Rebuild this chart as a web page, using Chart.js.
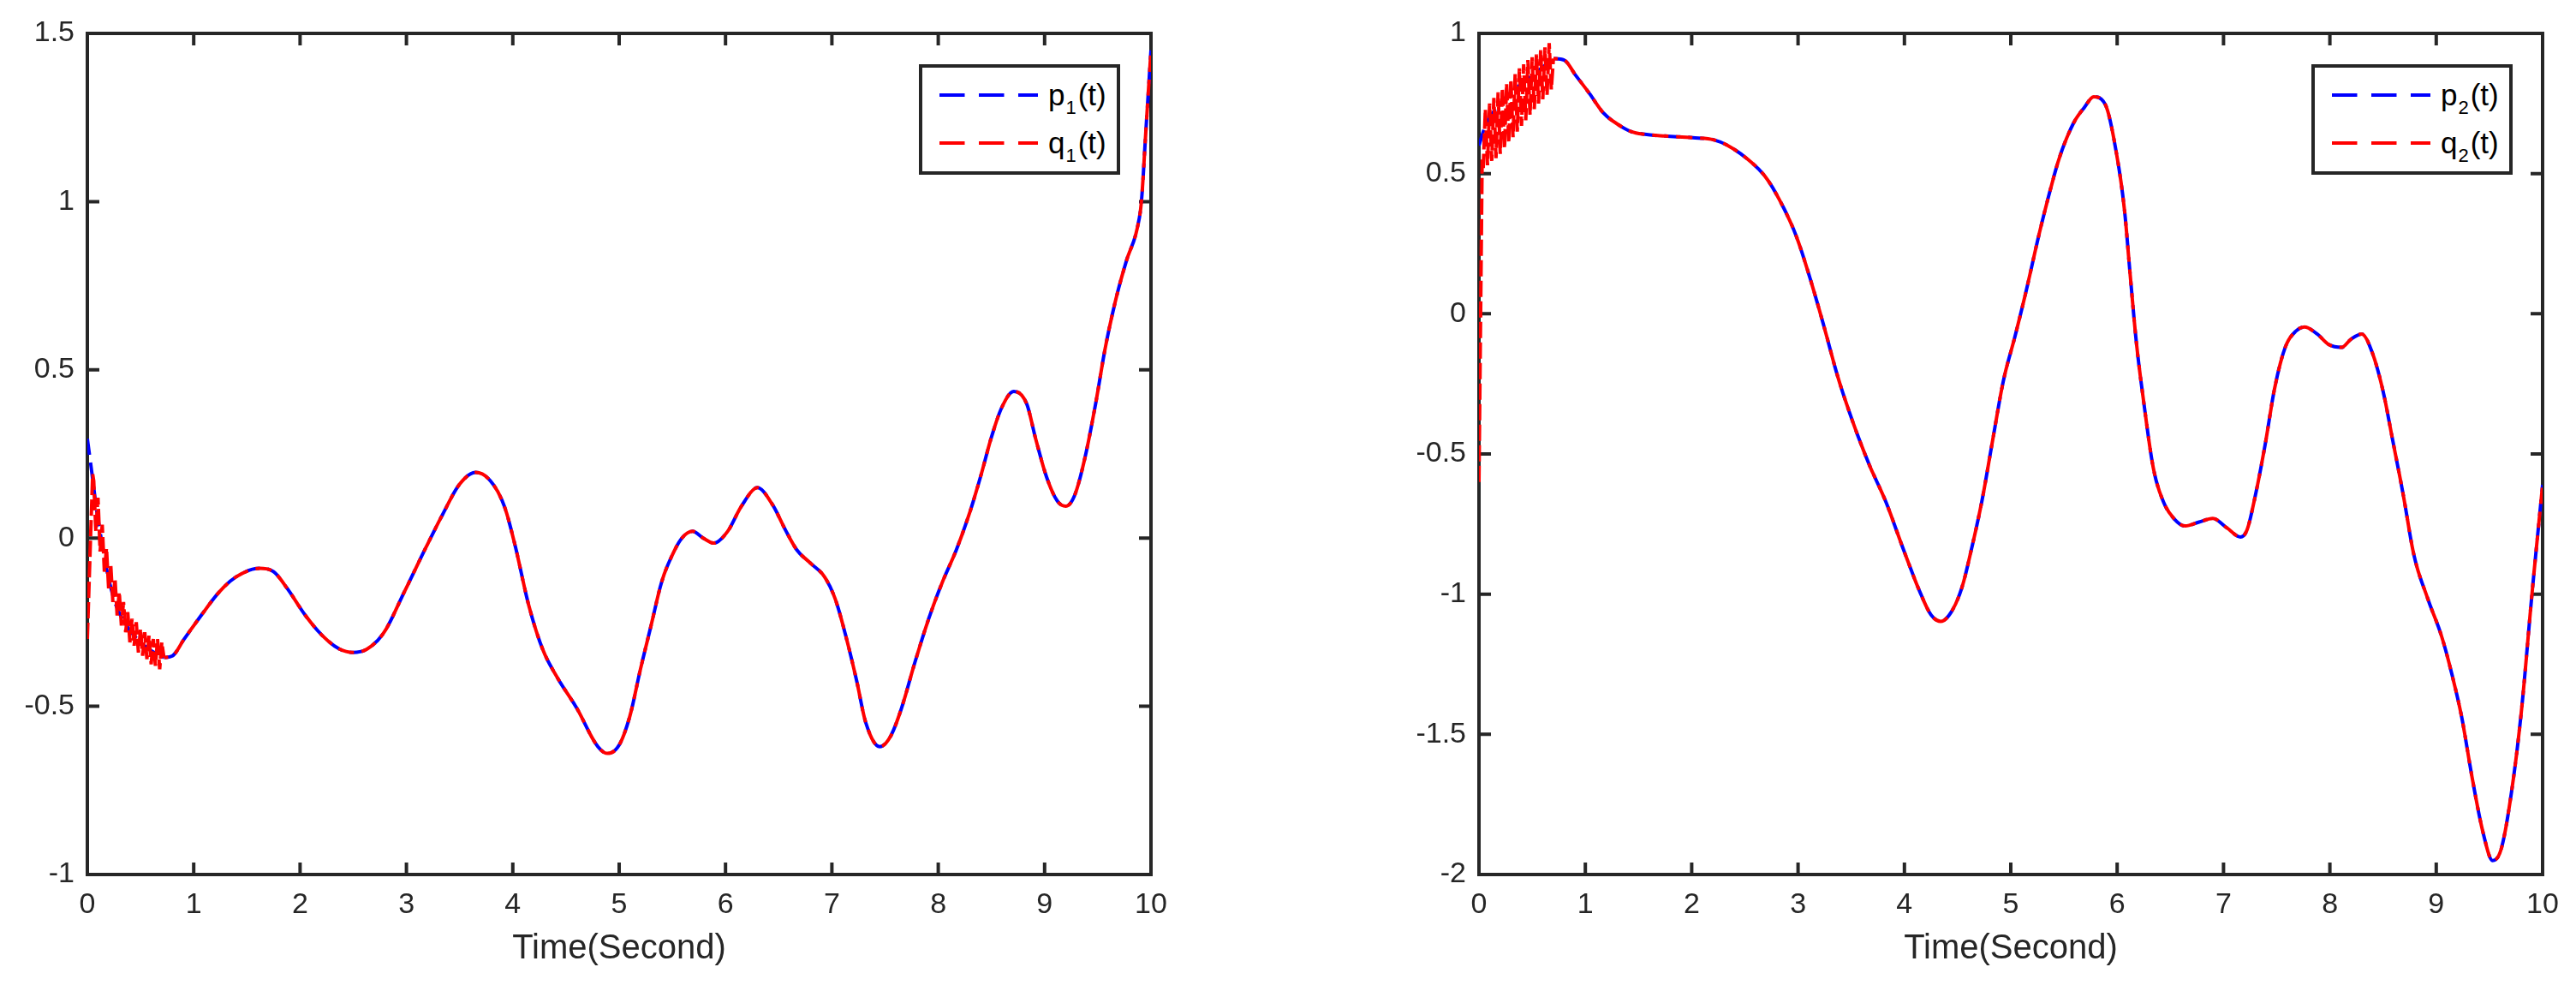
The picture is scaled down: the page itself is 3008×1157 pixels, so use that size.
<!DOCTYPE html>
<html>
<head>
<meta charset="utf-8">
<script src="https://cdn.jsdelivr.net/npm/chart.js@4.4.0/dist/chart.umd.min.js"></script>
<style>
  html, body { margin: 0; padding: 0; background: #fff; }
  #page { position: relative; width: 3008px; height: 1157px; overflow: hidden; }
  .plot { position: absolute; top: 0; width: 1504px; height: 1157px; }
  .legend {
    position: absolute; width: 235px; height: 129px; box-sizing: border-box;
    border: 4px solid #262626; background: #fff;
    font-family: 'Liberation Sans', Arial, sans-serif; color: #000;
  }
  .row { position: absolute; left: 20px; height: 56px; display: flex; align-items: center; }
  .row svg { display: block; }
  .lab { margin-left: 12px; font-size: 35px; line-height: 56px; white-space: nowrap; }
  .lab sub { font-size: 22px; line-height: 0; vertical-align: -10px; margin: 0 2px 0 1px; }
</style>
</head>
<body>
<div id="page">
  <div class="plot" style="left:0"><canvas id="chart1" width="1504" height="1157"></canvas></div>
  <div class="plot" style="left:1504px"><canvas id="chart2" width="1504" height="1157"></canvas></div>

  <div class="legend" style="left:1073px; top:75px">
    <div class="row" style="top:4px">
      <svg width="115" height="8"><line x1="0" y1="4" x2="115" y2="4" stroke="#0000ff" stroke-width="4" stroke-dasharray="29.5 16.5"/></svg>
      <span class="lab">p<sub>1</sub>(t)</span>
    </div>
    <div class="row" style="top:60px">
      <svg width="115" height="8"><line x1="0" y1="4" x2="115" y2="4" stroke="#ff0000" stroke-width="4" stroke-dasharray="29.5 16.5"/></svg>
      <span class="lab">q<sub>1</sub>(t)</span>
    </div>
  </div>

  <div class="legend" style="left:2699px; top:75px">
    <div class="row" style="top:4px">
      <svg width="115" height="8"><line x1="0" y1="4" x2="115" y2="4" stroke="#0000ff" stroke-width="4" stroke-dasharray="29.5 16.5"/></svg>
      <span class="lab">p<sub>2</sub>(t)</span>
    </div>
    <div class="row" style="top:60px">
      <svg width="115" height="8"><line x1="0" y1="4" x2="115" y2="4" stroke="#ff0000" stroke-width="4" stroke-dasharray="29.5 16.5"/></svg>
      <span class="lab">q<sub>2</sub>(t)</span>
    </div>
  </div>
</div>

<script>
// axes
const xTicks = [0, 1, 2, 3, 4, 5, 6, 7, 8, 9, 10];
const yTicks1 = [-1, -0.5, 0, 0.5, 1, 1.5];
const yTicks2 = [-2, -1.5, -1, -0.5, 0, 0.5, 1];
const xTitle = 'Time(Second)';

// p1(t)
const t1 = [0, 0.04, 0.08, 0.14, 0.2, 0.27, 0.39, 0.5, 0.6, 0.72, 0.8, 0.91, 1.07, 1.24, 1.4, 1.62, 1.75, 1.88,
  2.05, 2.21, 2.37, 2.5, 2.63, 2.79, 2.98, 3.18, 3.34, 3.5, 3.65, 3.79, 3.92, 4.02, 4.15, 4.28, 4.41, 4.6, 4.8,
  4.89, 5.0, 5.1, 5.2, 5.3, 5.4, 5.5, 5.59, 5.69, 5.79, 5.89, 6.02, 6.15, 6.3, 6.44, 6.57, 6.67, 6.8, 6.93, 7.03,
  7.13, 7.23, 7.32, 7.45, 7.55, 7.65, 7.78, 7.91, 8.04, 8.17, 8.3, 8.4, 8.5, 8.6, 8.71, 8.83, 8.92, 9.02, 9.12,
  9.2, 9.28, 9.38, 9.48, 9.57, 9.67, 9.77, 9.87, 9.91, 9.95, 10.0];
const p1 = [0.295, 0.2, 0.1, -0.02, -0.12, -0.2, -0.27, -0.31, -0.335, -0.355, -0.35, -0.3, -0.23, -0.16, -0.115,
  -0.09, -0.1, -0.15, -0.23, -0.29, -0.33, -0.34, -0.33, -0.28, -0.16, -0.03, 0.07, 0.16, 0.195, 0.17, 0.095,
  -0.02, -0.2, -0.33, -0.41, -0.505, -0.62, -0.64, -0.615, -0.53, -0.39, -0.26, -0.13, -0.05, 0.0, 0.02, 0.0,
  -0.015, 0.02, 0.095, 0.15, 0.1, 0.02, -0.035, -0.075, -0.115, -0.18, -0.29, -0.42, -0.55, -0.62, -0.59, -0.51,
  -0.37, -0.24, -0.13, -0.035, 0.08, 0.185, 0.3, 0.39, 0.436, 0.4, 0.29, 0.18, 0.11, 0.095, 0.125, 0.24, 0.4,
  0.565, 0.71, 0.825, 0.92, 1.0, 1.2, 1.45];

// q1(t): chattering start; after the last head point it sits on p1
const q1HeadT = [0, 0.03, 0.05, 0.06, 0.08, 0.1, 0.12, 0.14, 0.16, 0.18, 0.2, 0.22, 0.24, 0.26, 0.28, 0.3, 0.32,
  0.34, 0.36, 0.38, 0.4, 0.42, 0.44, 0.46, 0.48, 0.5, 0.52, 0.54, 0.56, 0.58, 0.6, 0.62, 0.64, 0.66, 0.68, 0.7, 0.72];
const q1HeadV = [-0.3, 0.0, 0.19, 0.17, 0.02, 0.12, -0.04, 0.04, -0.1, -0.03, -0.15, -0.08, -0.19, -0.12, -0.23,
  -0.16, -0.26, -0.19, -0.28, -0.22, -0.31, -0.24, -0.32, -0.25, -0.34, -0.27, -0.35, -0.28, -0.36, -0.29, -0.375,
  -0.3, -0.38, -0.3, -0.39, -0.31, -0.355];

// p2(t)
const t2 = [0, 0.05, 0.1, 0.2, 0.3, 0.4, 0.5, 0.6, 0.7, 0.8, 0.91, 1.04, 1.17, 1.3, 1.43, 1.56, 1.75, 2.01, 2.21,
  2.34, 2.53, 2.69, 2.82, 2.98, 3.11, 3.24, 3.37, 3.5, 3.66, 3.83, 3.99, 4.15, 4.25, 4.34, 4.44, 4.54, 4.63, 4.73,
  4.83, 4.93, 5.04, 5.14, 5.27, 5.37, 5.46, 5.59, 5.69, 5.78, 5.89, 5.99, 6.07, 6.12, 6.18, 6.25, 6.34, 6.44,
  6.54, 6.64, 6.77, 6.9, 7.03, 7.16, 7.22, 7.29, 7.39, 7.48, 7.58, 7.68, 7.76, 7.88, 7.99, 8.11, 8.2, 8.3, 8.4,
  8.5, 8.59, 8.69, 8.79, 8.92, 9.05, 9.15, 9.24, 9.34, 9.44, 9.53, 9.61, 9.71, 9.8, 9.9, 10.0];
const p2 = [0.6, 0.66, 0.7, 0.75, 0.79, 0.82, 0.85, 0.88, 0.91, 0.905, 0.85, 0.785, 0.716, 0.677, 0.65, 0.64,
  0.634, 0.628, 0.62, 0.6, 0.55, 0.49, 0.41, 0.28, 0.13, -0.04, -0.22, -0.37, -0.53, -0.675, -0.84, -0.996,
  -1.074, -1.097, -1.064, -0.977, -0.84, -0.665, -0.45, -0.24, -0.08, 0.074, 0.29, 0.44, 0.56, 0.68, 0.735,
  0.774, 0.745, 0.58, 0.366, 0.15, -0.1, -0.315, -0.55, -0.675, -0.733, -0.757, -0.743, -0.73, -0.763, -0.796,
  -0.772, -0.665, -0.47, -0.267, -0.12, -0.062, -0.047, -0.072, -0.11, -0.12, -0.09, -0.072, -0.14, -0.276,
  -0.45, -0.646, -0.86, -1.016, -1.15, -1.29, -1.44, -1.66, -1.85, -1.95, -1.91, -1.7, -1.42, -1.0, -0.61];

// q2(t): jump from -0.6, chattering; after the last head point it sits on p2
const q2HeadT = [0, 0.03, 0.04, 0.06, 0.08, 0.1, 0.12, 0.14, 0.16, 0.18, 0.2, 0.22, 0.24, 0.26, 0.28, 0.3, 0.32,
  0.34, 0.36, 0.38, 0.4, 0.42, 0.44, 0.46, 0.48, 0.5, 0.52, 0.54, 0.56, 0.58, 0.6, 0.62, 0.64, 0.66, 0.68, 0.7];
const q2HeadV = [-0.6, 0.55, 0.52, 0.73, 0.53, 0.75, 0.545, 0.77, 0.555, 0.79, 0.57, 0.805, 0.59, 0.82, 0.61, 0.835,
  0.63, 0.855, 0.65, 0.875, 0.67, 0.89, 0.69, 0.905, 0.71, 0.915, 0.73, 0.925, 0.75, 0.94, 0.765, 0.95, 0.78, 0.965,
  0.8, 0.91];

const AXIS_COLOR = '#262626';
const FONT = "'Liberation Sans', Arial, Helvetica, sans-serif";
const BLUE = '#0000ff';
const RED = '#ff0000';

function toPoints(ts, vs) {
    return ts.map((t, i) => ({ x: t, y: vs[i] }));
}

// box round the axes with inward ticks on all four sides
const framePlugin = {
    id: 'frame',
    beforeDatasetsDraw(chart) {
        const { ctx, chartArea: a, scales } = chart;
        const tick = 14;
        ctx.save();
        ctx.strokeStyle = AXIS_COLOR;
        ctx.lineWidth = 4;
        ctx.beginPath();
        scales.x.ticks.forEach(t => {
            const px = scales.x.getPixelForValue(t.value);
            ctx.moveTo(px, a.bottom); ctx.lineTo(px, a.bottom - tick);
            ctx.moveTo(px, a.top); ctx.lineTo(px, a.top + tick);
        });
        scales.y.ticks.forEach(t => {
            const py = scales.y.getPixelForValue(t.value);
            ctx.moveTo(a.left, py); ctx.lineTo(a.left + tick, py);
            ctx.moveTo(a.right, py); ctx.lineTo(a.right - tick, py);
        });
        ctx.stroke();
        ctx.strokeRect(a.left, a.top, a.right - a.left, a.bottom - a.top);
        ctx.restore();
    }
};

function series(data, color, order, smooth, dash, dashOffset) {
    return {
        data: data,
        borderColor: color,
        borderWidth: 4,
        borderDash: dash,
        borderDashOffset: dashOffset,
        pointRadius: 0,
        fill: false,
        order: order,
        tension: 0,
        cubicInterpolationMode: smooth ? 'monotone' : 'default'
    };
}

function makeChart(id, pT, pV, qHeadT, qHeadV, yTicks, yWidth, padRight) {
    // the split is where q stops chattering and lies on p
    const split = qHeadT[qHeadT.length - 1];
    const pAll = toPoints(pT, pV);
    const pHead = pAll.filter(pt => pt.x <= split);
    const pTail = pAll.filter(pt => pt.x >= split);

    return new Chart(document.getElementById(id), {
        type: 'line',
        data: {
            datasets: [
                series(toPoints(qHeadT, qHeadV), RED, 0, false, [19, 5], 0),
                series(pTail, RED, 0, true, [19, 9], 14),
                series(pHead, BLUE, 1, true, [19, 9], 0),
                series(pTail, BLUE, 1, true, [19, 9], 0)
            ]
        },
        options: {
            responsive: false,
            animation: false,
            devicePixelRatio: 1,
            layout: { padding: { left: 0, top: 39, right: padRight, bottom: 0 } },
            plugins: { legend: { display: false }, tooltip: { enabled: false } },
            scales: {
                x: {
                    type: 'linear',
                    min: xTicks[0],
                    max: xTicks[xTicks.length - 1],
                    grid: { display: false, drawTicks: false },
                    border: { display: false },
                    afterBuildTicks: s => { s.ticks = xTicks.map(v => ({ value: v })); },
                    afterFit: s => { s.height = 136; },
                    ticks: {
                        color: AXIS_COLOR, padding: 15, maxRotation: 0, autoSkip: false,
                        font: { family: FONT, size: 34 },
                        callback: v => String(v)
                    },
                    title: {
                        display: true, text: xTitle, color: AXIS_COLOR,
                        font: { family: FONT, size: 40 },
                        padding: { top: 25, bottom: 25 }
                    }
                },
                y: {
                    type: 'linear',
                    min: yTicks[0],
                    max: yTicks[yTicks.length - 1],
                    grid: { display: false, drawTicks: false },
                    border: { display: false },
                    afterBuildTicks: s => { s.ticks = yTicks.map(v => ({ value: v })); },
                    afterFit: s => { s.width = yWidth; },
                    ticks: {
                        color: AXIS_COLOR, padding: 15,
                        font: { family: FONT, size: 34 },
                        callback: v => String(v)
                    }
                }
            }
        },
        plugins: [framePlugin]
    });
}

makeChart('chart1', t1, p1, q1HeadT, q1HeadV, yTicks1, 102, 160);
makeChart('chart2', t2, p2, q2HeadT, q2HeadV, yTicks2, 223, 39);
</script>
</body>
</html>
